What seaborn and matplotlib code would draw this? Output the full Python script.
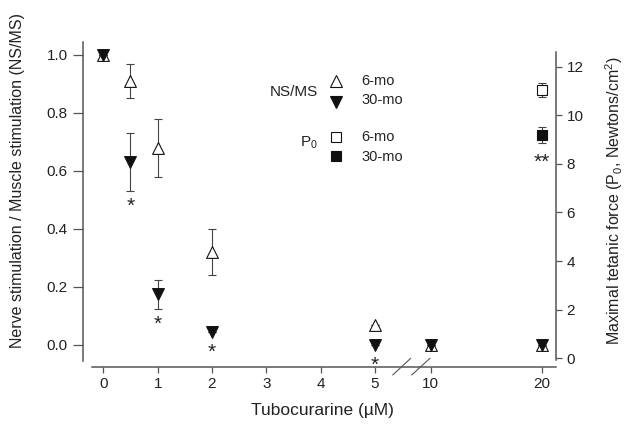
import numpy as np
import matplotlib
matplotlib.use("Agg")
import matplotlib.pyplot as plt
import seaborn as sns
from matplotlib.transforms import Affine2D
from matplotlib.lines import Line2D

# ---------------- data ----------------
conc = [0, 0.5, 1, 2, 5, 10, 20]
ns_6mo = [1.00, 0.91, 0.68, 0.32, 0.07, 0.00, 0.00]
ns_6mo_err = [0.0, 0.06, 0.10, 0.08, 0.0, 0.0, 0.0]
ns_30mo = [1.00, 0.63, 0.175, 0.045, 0.00, 0.00, 0.00]
ns_30mo_err = [0.0, 0.10, 0.05, 0.0, 0.0, 0.0, 0.0]
p0_conc = [20]
p0_6mo = [11.05]
p0_6mo_err = [0.28]
p0_30mo = [9.2]
p0_30mo_err = [0.32]
sig_conc = [0.5, 1, 2, 5]          # single star below 30-mo NS/MS
x_ticks = [0, 1, 2, 3, 4, 5, 10, 20]
x_ticklabels = ["0", "1", "2", "3", "4", "5", "10", "20"]
left_ticks = [0.0, 0.2, 0.4, 0.6, 0.8, 1.0]
right_ticks = [0, 2, 4, 6, 8, 10, 12]

# ---------------- style ----------------
sns.set_style("ticks")
plt.rcParams["font.family"] = ["Liberation Sans", "DejaVu Sans"]
plt.rcParams["mathtext.default"] = "regular"
TXT = "#222222"
SPC = "#555555"
MK = "#111111"
ERC = "#444444"

W, H = 624, 428
fig = plt.figure(figsize=(W / 100, H / 100), dpi=100)
ax = fig.add_axes([83 / W, 1 - 367 / H, (556 - 83) / W, (367 - 42) / H])


def fwd(x):
    x = np.asarray(x, dtype=float)
    return np.where(x <= 5, x, 5 + (x - 5) * 0.205)


def inv(y):
    y = np.asarray(y, dtype=float)
    return np.where(y <= 5, y, 5 + (y - 5) / 0.205)


# error bars (drawn below markers)
eb_kw = dict(fmt="none", ecolor=ERC, elinewidth=0.8, capsize=3, capthick=0.8, zorder=2)
ax.errorbar(conc, ns_6mo, yerr=ns_6mo_err, **eb_kw)
ax.errorbar(conc, ns_30mo, yerr=ns_30mo_err, **eb_kw)

sns.scatterplot(x=conc, y=ns_6mo, marker="^", s=72, color="white", edgecolor=MK,
                linewidth=0.8, ax=ax, zorder=3)
sns.scatterplot(x=conc, y=ns_30mo, marker="v", s=72, color=MK, edgecolor=MK,
                linewidth=0.8, ax=ax, zorder=4)

ax.set_xscale("function", functions=(fwd, inv))
ax.set_xlim(-0.374, 21.25)
ax.set_ylim(-0.0759, 1.0448)

# significance stars
for xv in sig_conc:
    i = conc.index(xv)
    e = ns_30mo_err[i]
    off = -11 if e > 0 else -14.5
    ax.annotate("*", (xv, ns_30mo[i] - e), xytext=(0, off), textcoords="offset points",
                ha="center", va="center", fontsize=15, color=TXT)

# right axis
ax2 = ax.twinx()
ax2.errorbar(p0_conc, p0_6mo, yerr=p0_6mo_err, **eb_kw)
ax2.errorbar(p0_conc, p0_30mo, yerr=p0_30mo_err, **eb_kw)
sns.scatterplot(x=p0_conc, y=p0_6mo, marker="s", s=50, color="white", edgecolor=MK,
                linewidth=0.8, ax=ax2, zorder=3)
sns.scatterplot(x=p0_conc, y=p0_30mo, marker="s", s=50, color=MK, edgecolor=MK,
                linewidth=0.8, ax=ax2, zorder=3)
ax2.annotate("**", (p0_conc[0], p0_30mo[0] - p0_30mo_err[0]), xytext=(0, -14),
             textcoords="offset points", ha="center", va="center", fontsize=15, color=TXT)
ax2.set_ylim(-0.358, 13.016)
ax2.set_xlim(-0.374, 21.25)

# spines
for s in ["top", "right"]:
    ax.spines[s].set_visible(False)
for s in ["top", "left", "bottom"]:
    ax2.spines[s].set_visible(False)
for sp in [ax.spines["left"], ax.spines["bottom"], ax2.spines["right"]]:
    sp.set_color(SPC)
    sp.set_linewidth(1.1)
ax.spines["left"].set_bounds(-0.055, 1.0448)
ax.spines["bottom"].set_bounds(-0.208, 21.25)
ax2.spines["right"].set_bounds(-0.07, 12.6)

ax.set_xticks(x_ticks)
ax.set_xticklabels(x_ticklabels)
ax.set_yticks(left_ticks)
ax.set_yticklabels([f"{v:.1f}" for v in left_ticks])
ax2.set_yticks(right_ticks)
ax2.set_yticklabels([str(v) for v in right_ticks])
ax.tick_params(axis="x", direction="out", length=4.5, width=0.9, color=SPC,
               labelsize=11, labelcolor=TXT, pad=3)
ax.tick_params(axis="y", direction="out", length=7, width=0.9, color=SPC,
               labelsize=11, labelcolor=TXT, pad=4)
ax2.tick_params(axis="y", direction="out", length=4.5, width=0.9, color=SPC,
                labelsize=11, labelcolor=TXT, pad=3)

# axis labels
ax.set_xlabel("Tubocurarine (\u00b5M)", fontsize=12.5, color=TXT)
ax.xaxis.set_label_coords((322 - 83) / 473, (367 - 410) / 325)
ax.xaxis.label.set_va("center")
ax.set_ylabel("Nerve stimulation / Muscle stimulation (NS/MS)", fontsize=11.5, color=TXT)
ax.yaxis.set_label_coords((18 - 83) / 473, (367 - 180) / 325)
ax.yaxis.label.set_va("center")
ax2.set_ylabel("Maximal tetanic force (P$_0$, Newtons/cm$^2$)", fontsize=11.5, color=TXT,
               rotation=90)
ax2.yaxis.set_label_coords((614 - 83) / 473, (367 - 201) / 325)
ax2.yaxis.label.set_va("center")

# pixel transform for decorations
pix = Affine2D().scale(1 / W, -1 / H).translate(0, 1) + fig.transFigure

# axis break marks
for x0, x1 in [(392.7, 410.7), (411.7, 430.0)]:
    fig.add_artist(Line2D([x0, x1], [375, 358.3], transform=pix, color=SPC, lw=0.8))

# manual legend
fig.text(318, 92, "NS/MS", transform=pix, ha="right", va="center", fontsize=11, color=TXT)
fig.text(318, 143, "P$_0$", transform=pix, ha="right", va="center", fontsize=11, color=TXT)
fig.add_artist(Line2D([336], [81], transform=pix, marker="^", ms=8.5, mfc="white",
                      mec=MK, mew=0.8, ls="none"))
fig.add_artist(Line2D([336], [102], transform=pix, marker="v", ms=8.5, mfc=MK,
                      mec=MK, mew=0.8, ls="none"))
fig.add_artist(Line2D([336], [137], transform=pix, marker="s", ms=7, mfc="white",
                      mec=MK, mew=0.8, ls="none"))
fig.add_artist(Line2D([336], [156], transform=pix, marker="s", ms=7, mfc=MK,
                      mec=MK, mew=0.8, ls="none"))
for yy, t in [(81, "6-mo"), (100, "30-mo"), (137, "6-mo"), (157, "30-mo")]:
    fig.text(361, yy, t, transform=pix, ha="left", va="center", fontsize=10.5, color=TXT)

fig.savefig("out.png", dpi=100)
